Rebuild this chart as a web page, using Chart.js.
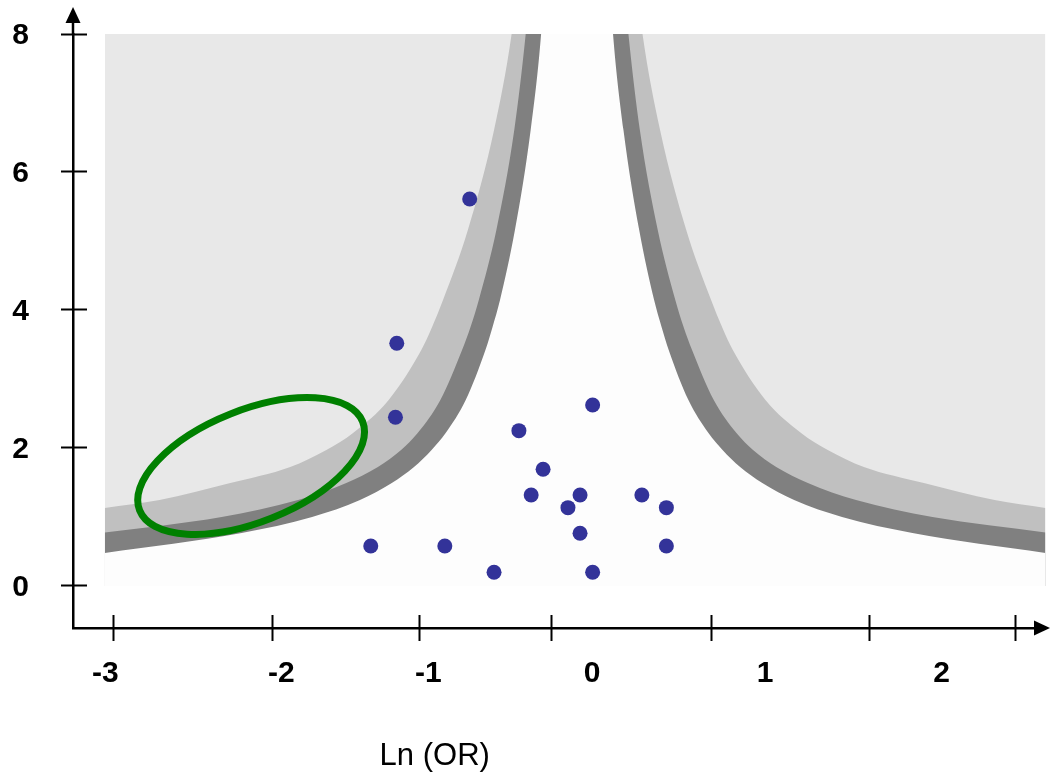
<!DOCTYPE html>
<html>
<head>
<meta charset="utf-8">
<title>Funnel plot</title>
<script src="https://cdn.jsdelivr.net/npm/chart.js@4.4.0/dist/chart.umd.min.js"></script>
<style>
  html, body { margin: 0; padding: 0; background: #fff; }
  #wrap { position: relative; width: 1053px; height: 773px; }
</style>
</head>
<body>
<div id="wrap"><canvas id="funnel"></canvas></div>
<script>
// ── axis ticks / labels ─────────────────────────────
const yTicks     = [0, 2, 4, 6, 8];
const xLabelPos  = [-2.943, -1.880, -0.994, -0.006, 1.039, 2.104];
const xLabelText = ['-3', '-2', '-1', '0', '1', '2'];
const xTickMarks = [-2.892, -1.934, -1.048, -0.249, 0.713, 1.671, 2.551];

// ── studies (Ln OR, precision) ──────────────────────
const studyX = [-0.002, -0.447, -1.192, -0.301, -0.373, -0.078, -0.151, 0.295, 0.443,
                -0.078, -1.341, -0.894, 0.443, -0.597, -0.002, -0.744, -1.184];
const studyY = [2.623, 2.251, 2.445, 1.691, 1.319, 1.319, 1.135, 1.319, 1.135,
                0.764, 0.580, 0.580, 0.580, 0.199, 0.199, 5.609, 3.517];

// ── shaded region (x span, top) ─────────────────────
const regionX = [-2.946, 2.731];
const regionY = [8, 8];

// ── contour edges (left arm, then right arm) ──
const outerX = [-2.946, -2.616, -2.189, -1.827, -1.609, -1.448, -1.233, -1.036, -0.971, -0.905, -0.755, -0.597, -0.491, -0.442,
                0.250, 0.299, 0.405, 0.563, 0.713, 0.779, 0.844, 1.041, 1.256, 1.417, 1.635, 1.997, 2.424, 2.731];
const outerY = [1.130, 1.246, 1.493, 1.725, 1.971, 2.217, 2.696, 3.420, 3.754, 4.145, 5.159, 6.609, 8, 9,
                9, 8, 6.609, 5.159, 4.145, 3.754, 3.420, 2.696, 2.217, 1.971, 1.725, 1.493, 1.246, 1.130];

const middleX = [-2.946, -2.241, -1.780, -1.489, -1.298, -1.158, -1.058, -0.921, -0.790, -0.739, -0.689, -0.583, -0.475, -0.406, -0.369,
                 0.177, 0.214, 0.283, 0.391, 0.497, 0.547, 0.598, 0.729, 0.866, 0.966, 1.106, 1.297, 1.588, 2.049, 2.731];
const middleY = [0.775, 1.0, 1.246, 1.493, 1.725, 1.971, 2.217, 2.696, 3.420, 3.754, 4.145, 5.159, 6.609, 8, 9,
                 9, 8, 6.609, 5.159, 4.145, 3.754, 3.420, 2.696, 2.217, 1.971, 1.725, 1.493, 1.246, 1.0, 0.775];

const innerX = [-2.946, -2.120, -1.695, -1.406, -1.214, -1.080, -0.974, -0.889, -0.768, -0.649, -0.606, -0.561, -0.471, -0.376, -0.313, -0.286,
                0.094, 0.121, 0.184, 0.279, 0.369, 0.414, 0.457, 0.576, 0.697, 0.782, 0.888, 1.022, 1.214, 1.503, 1.928, 2.731];
const innerY = [0.478, 0.768, 1.0, 1.246, 1.493, 1.725, 1.971, 2.217, 2.696, 3.420, 3.754, 4.145, 5.159, 6.609, 8, 9,
                9, 8, 6.609, 5.159, 4.145, 3.754, 3.420, 2.696, 2.217, 1.971, 1.725, 1.493, 1.246, 1.0, 0.768, 0.478];

// ── highlight ellipse (centre in data units) ────────
const ellipseCenter = { x: -2.063, y: 1.739 };
const ELLIPSE_RX = 120, ELLIPSE_RY = 56, ELLIPSE_ROT = -21.7 * Math.PI / 180;
const TITLE_X = -0.955;

const X_MIN = -3.138, X_MAX = 2.731, Y_MIN = -0.609, Y_MAX = 8;
const FONT = "'Liberation Sans', Arial, sans-serif";

const pts = (xs, ys) => xs.map((x, i) => ({ x, y: ys[i] }));

const band = (label, xs, ys, color, order) => ({
  type: 'line', label, data: pts(xs, ys), fill: 'origin',
  backgroundColor: color, borderColor: 'transparent', borderWidth: 0,
  pointRadius: 0, cubicInterpolationMode: 'monotone', order,
  xAxisID: 'x', yAxisID: 'y',
});

// ── extra drawing: arrows, ellipse, axis title ──────
const decor = {
  id: 'decor',
  afterDatasetsDraw(chart) {
    const { ctx, scales: { x, y } } = chart;
    ctx.save();
    ctx.beginPath();
    ctx.ellipse(x.getPixelForValue(ellipseCenter.x), y.getPixelForValue(ellipseCenter.y),
                ELLIPSE_RX, ELLIPSE_RY, ELLIPSE_ROT, 0, Math.PI * 2);
    ctx.strokeStyle = '#008000';
    ctx.lineWidth = 7;
    ctx.stroke();
    ctx.restore();
  },
  afterDraw(chart) {
    const { ctx, chartArea: a, scales: { x } } = chart;
    ctx.save();
    ctx.fillStyle = '#000';
    ctx.strokeStyle = '#000';
    ctx.lineWidth = 2.5;
    // y axis continues up to the arrow
    ctx.beginPath();
    ctx.moveTo(a.left, a.top);
    ctx.lineTo(a.left, 20);
    ctx.stroke();
    ctx.beginPath();
    ctx.moveTo(a.left, 7);
    ctx.lineTo(a.left - 7.5, 23);
    ctx.lineTo(a.left + 7.5, 23);
    ctx.closePath();
    ctx.fill();
    // x axis arrow
    ctx.beginPath();
    ctx.moveTo(1050, a.bottom);
    ctx.lineTo(1034, a.bottom - 7.5);
    ctx.lineTo(1034, a.bottom + 7.5);
    ctx.closePath();
    ctx.fill();
    // axis title
    ctx.font = '31px ' + FONT;
    ctx.textAlign = 'center';
    ctx.textBaseline = 'alphabetic';
    ctx.fillText('Ln (OR)', x.getPixelForValue(TITLE_X), 765);
    ctx.restore();
  },
};

const noPad = s => { s.paddingLeft = 0; s.paddingRight = 0; s.paddingTop = 0; s.paddingBottom = 0; };
const tickFont = { family: FONT, size: 30, weight: 'bold' };

new Chart(document.getElementById('funnel'), {
  type: 'line',
  data: {
    datasets: [
      {
        type: 'scatter', label: 'Studies', data: pts(studyX, studyY),
        backgroundColor: '#333399', borderWidth: 0, pointRadius: 7.5, order: 0,
        xAxisID: 'x', yAxisID: 'y',
      },
      band('inner', innerX, innerY, '#fdfdfd', 1),
      band('middle', middleX, middleY, '#808080', 2),
      band('outer', outerX, outerY, '#c0c0c0', 3),
      band('region', regionX, regionY, '#e8e8e8', 4),
    ],
  },
  options: {
    responsive: true,
    maintainAspectRatio: false,
    animation: false,
    events: [],
    layout: { padding: { top: 34, left: 0, right: 0, bottom: 0 } },
    plugins: { legend: { display: false }, tooltip: { enabled: false }, title: { display: false } },
    scales: {
      x: {
        type: 'linear', position: 'bottom', min: X_MIN, max: X_MAX, bounds: 'data',
        afterBuildTicks: s => { s.ticks = xLabelPos.map(v => ({ value: v })); },
        ticks: {
          callback: (v, i) => xLabelText[i], font: tickFont, color: '#000',
          padding: 20, maxRotation: 0, autoSkip: false,
        },
        grid: { display: false },
        border: { display: true, color: '#000', width: 2.5 },
        afterFit: s => { s.height = 145; noPad(s); },
      },
      y: {
        type: 'linear', position: 'left', min: Y_MIN, max: Y_MAX, bounds: 'data',
        afterBuildTicks: s => { s.ticks = yTicks.map(v => ({ value: v })); },
        ticks: { callback: v => String(v), font: tickFont, color: '#000', padding: 36, labelOffset: 2 },
        grid: { display: false },
        border: { display: true, color: '#000', width: 2.5 },
        afterFit: s => { s.width = 73; noPad(s); },
      },
      xt: {
        type: 'linear', axis: 'x', position: { y: -0.42 }, min: X_MIN, max: X_MAX, bounds: 'data',
        afterBuildTicks: s => { s.ticks = xTickMarks.map(v => ({ value: v })); },
        ticks: { display: false },
        grid: { display: true, drawOnChartArea: false, drawTicks: true, tickLength: 26, tickWidth: 2, tickColor: '#000' },
        border: { display: false },
        afterFit: noPad,
      },
      yt: {
        type: 'linear', axis: 'y', position: { x: -3.054 }, min: Y_MIN, max: Y_MAX, bounds: 'data',
        afterBuildTicks: s => { s.ticks = yTicks.map(v => ({ value: v })); },
        ticks: { display: false },
        grid: { display: true, drawOnChartArea: false, drawTicks: true, tickLength: 26, tickWidth: 2, tickColor: '#000' },
        border: { display: false },
        afterFit: noPad,
      },
    },
  },
  plugins: [decor],
});
</script>
</body>
</html>
